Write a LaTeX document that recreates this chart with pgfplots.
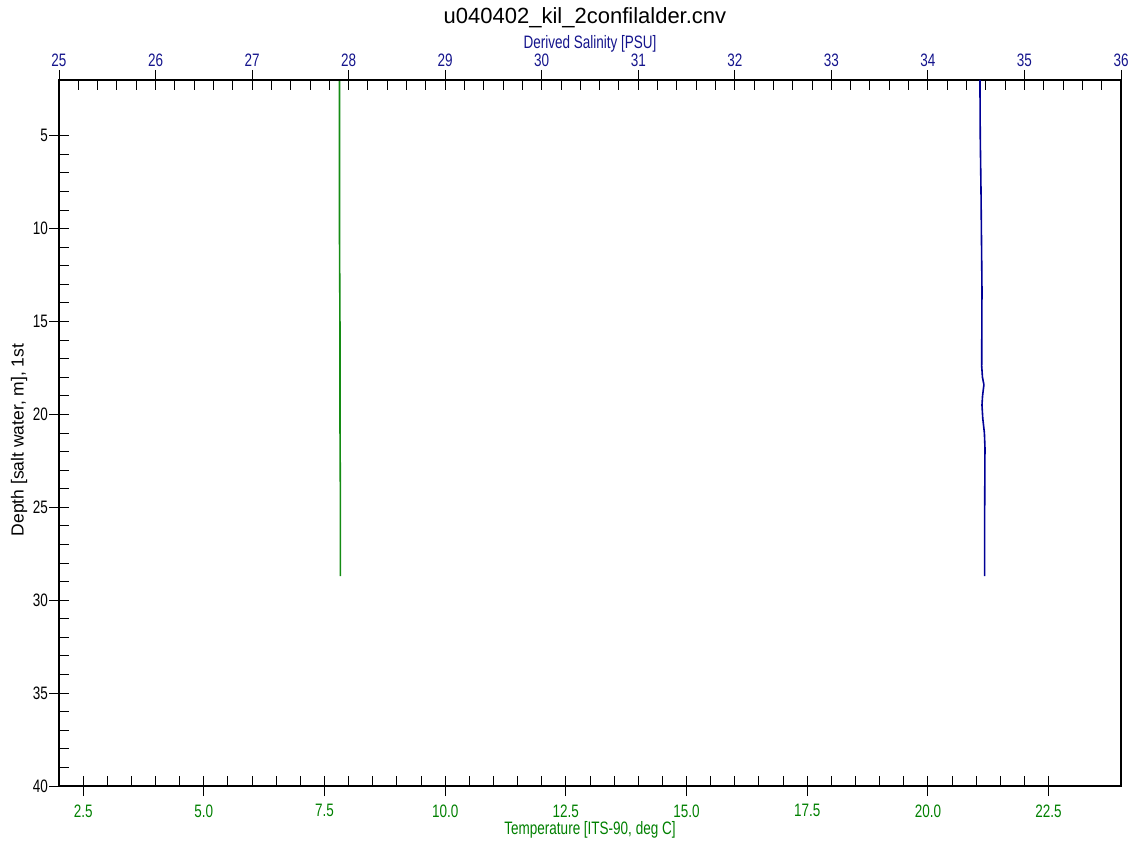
\documentclass[border=0pt]{standalone}
\usepackage{fontspec}
\setmainfont{Liberation Sans}
\newfontfamily\narrowfont[FakeStretch=0.75]{Liberation Sans}
\usepackage{pgfplots}
\pgfplotsset{compat=1.18}
\definecolor{tgreen}{RGB}{0,128,0}
\definecolor{sblue}{RGB}{20,20,140}
\definecolor{lblue}{RGB}{0,0,150}
\definecolor{lgreen}{RGB}{20,140,20}
\newcommand{\tlfont}{\narrowfont\fontsize{18}{18}\selectfont}
\begin{document}
\begin{tikzpicture}
\path[use as bounding box] (0pt,0pt) rectangle (1138pt,843pt);
\begin{axis}[
  at={(590pt,410pt)}, anchor=center,
  scale only axis, width=1062pt, height=706pt,
  xmin=2, xmax=24, ymin=2, ymax=40, y dir=reverse,
  axis line style={black, line width=1.1pt},
  xtick={2.5,5,...,22.5}, minor x tick num=4,
  ytick={5,10,...,40}, minor y tick num=4,
  xtick pos=left, ytick pos=left,
  tick align=center, major tick length=20pt, minor tick length=10pt,
  every tick/.style={black, line width=1pt},
  minor x tick style={yshift=5pt},
  minor y tick style={xshift=5pt},
  /pgf/number format/assume math mode=true,
  xticklabel style={text=tgreen, font=\tlfont, yshift=-5pt, /pgf/number format/.cd, fixed, fixed zerofill, precision=1},
  yticklabel style={text=black, font=\tlfont, inner sep=1pt},
  clip=false,
]
\addplot[lgreen, line width=1.6pt] coordinates {
(7.81,2.0) (7.81,5.0) (7.81,10.0) (7.82,15.0) (7.82,20.0) (7.83,25.0) (7.83,28.4) (7.83,28.7)
};
\end{axis}
\begin{axis}[
  at={(590pt,410pt)}, anchor=center,
  scale only axis, width=1062pt, height=706pt,
  xmin=25, xmax=36, ymin=2, ymax=40, y dir=reverse,
  axis x line*=top, hide y axis,
  axis line style={black, line width=1.1pt},
  xtick={25,26,...,36}, minor x tick num=4,
  tick align=center, major tick length=20pt, minor tick length=10pt,
  every tick/.style={black, line width=1pt},
  minor x tick style={yshift=-5pt},
  /pgf/number format/assume math mode=true,
  xticklabel style={text=sblue, font=\tlfont},
]
\addplot[lblue, line width=1.6pt] coordinates {
(34.539,2.0) (34.542,5.0) (34.550,8.0) (34.557,11.7) (34.560,13.3) (34.557,17.4) (34.565,18.0) (34.580,18.4) (34.566,19.0) (34.560,19.5) (34.568,20.2) (34.585,21.0) (34.591,21.8) (34.589,24.0) (34.587,26.0) (34.587,28.7)
};
\end{axis}
\node[font=\fontsize{22}{22}\selectfont] at (585pt,825pt) {u040402\_kil\_2confilalder.cnv};
\node[font=\narrowfont\fontsize{18}{18}\selectfont, text=sblue] at (590pt,799pt) {Derived Salinity [PSU]};
\node[font=\narrowfont\fontsize{18}{18}\selectfont, text=tgreen] at (590pt,13pt) {Temperature [ITS-90, deg C]};
\node[font=\fontsize{17.5}{17.5}\selectfont, rotate=90] at (19pt,403pt) {Depth [salt water, m], 1st};
\end{tikzpicture}
\end{document}
